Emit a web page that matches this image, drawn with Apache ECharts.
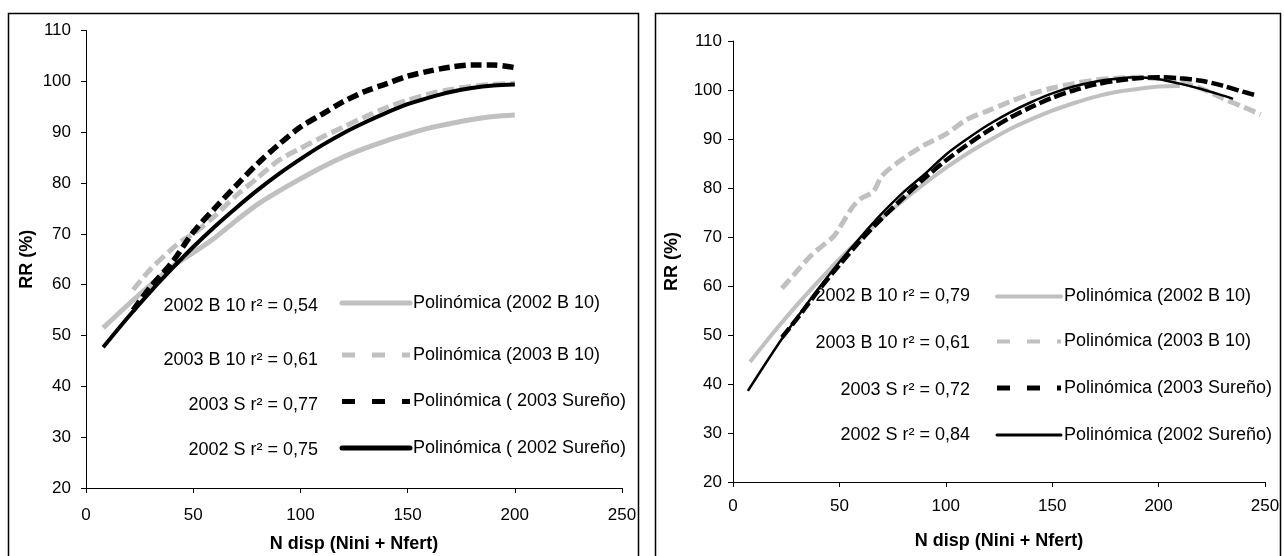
<!DOCTYPE html>
<html>
<head>
<meta charset="utf-8">
<script src="https://cdn.jsdelivr.net/npm/echarts@6.0.0/dist/echarts.min.js"></script>
<style>
  html, body { margin: 0; padding: 0; background: #fff; }
  #main { width: 1284px; height: 556px; }
</style>
</head>
<body>
<div id="main"></div>
<script>
// ---- data ----
// left panel
var left_b10_2002 = [[8,51.5],[20,56.2],[30,59.9],[40,63.5],[50,66.3],[60,69.2],[70,72.6],[80,75.8],[90,78.4],[100,80.8],[110,83.1],[120,85.1],[130,86.8],[140,88.3],[150,89.6],[160,90.8],[170,91.7],[180,92.5],[190,93.1],[200,93.4]];
var left_b10_2003 = [[22,59],[30,63],[40,67],[45,68.7],[50,70],[60,73.5],[70,77.5],[80,81],[90,84.5],[100,86.8],[110,89],[120,91],[130,93],[140,94.8],[150,96.3],[160,97.5],[170,98.4],[180,99],[190,99.4],[200,99.6]];
var left_s_2003 = [[22,55],[30,59.5],[40,64.3],[50,70.3],[60,75],[70,79.5],[80,83.8],[90,87.6],[100,91],[110,93.5],[120,96],[130,98],[140,99.5],[150,101],[160,102],[170,102.8],[180,103.2],[190,103.2],[200,102.7]];
var left_s_2002 = [[8,47.7],[20,53.8],[30,58.6],[40,63.1],[50,67.4],[60,71.4],[70,75.1],[80,78.6],[90,81.8],[100,84.7],[110,87.4],[120,89.8],[130,91.9],[140,93.8],[150,95.5],[160,96.8],[170,97.9],[180,98.7],[190,99.2],[200,99.4]];
// right panel
var right_b10_2002 = [[8,44.5],[20,51],[30,56.1],[40,60.9],[50,65.5],[60,69.7],[70,73.8],[80,77.5],[90,80.9],[100,84.1],[110,87],[120,89.6],[130,92],[140,94],[150,95.8],[160,97.3],[170,98.6],[180,99.6],[190,100.2],[200,100.7],[210,100.8]];
var right_b10_2003 = [[23,59.5],[30,63],[36,65.9],[40,67.5],[47,70],[50,71.8],[56,76],[60,77.8],[66,79.3],[70,82.5],[80,86],[90,88.8],[100,91],[110,94],[120,95.8],[130,97.6],[140,99.2],[150,100.4],[160,101.3],[170,102],[180,102.4],[190,102.6],[200,102.3],[210,101.6],[220,100.3],[230,98.3],[240,96.5],[248,95]];
var right_s_2003 = [[23,49.5],[30,53.3],[40,59],[50,64.3],[60,69.3],[70,73.8],[80,78],[90,82],[100,85.6],[110,88.8],[120,91.7],[130,94.3],[140,96.5],[150,98.4],[160,99.9],[170,101.1],[180,101.9],[190,102.4],[200,102.6],[210,102.4],[220,101.9],[230,100.9],[240,99.6],[246,98.9]];
var right_s_2002 = [[7,38.6],[20,47.3],[30,53.5],[40,59.4],[50,64.9],[60,70],[70,74.8],[80,79.1],[90,82.8],[100,86.8],[110,90],[120,92.9],[130,95.4],[140,97.5],[150,99.3],[160,100.7],[170,101.7],[180,102.3],[190,102.6],[200,102.2],[210,101.3],[220,100.2],[230,98.9],[235,98.2]];

var legend_names_left = ['Polinómica (2002 B 10)', 'Polinómica (2003 B 10)', 'Polinómica ( 2003 Sureño)', 'Polinómica ( 2002 Sureño)'];
var legend_names_right = ['Polinómica (2002 B 10)', 'Polinómica (2003 B 10)', 'Polinómica (2003 Sureño)', 'Polinómica (2002 Sureño)'];
var r2_left = ['2002 B 10 r² = 0,54', '2003 B 10 r² = 0,61', '2003 S r² = 0,77', '2002 S r² = 0,75'];
var r2_right = ['2002 B 10 r² = 0,79', '2003 B 10 r² = 0,61', '2003 S r² = 0,72', '2002 S r² = 0,84'];

var x_ticks = [0, 250, 50];   // min, max, step
var y_ticks = [20, 110, 10];

// ---- styles ----
var GRAY = '#c0c0c0';
var FONT = 'Liberation Sans, Arial, sans-serif';
var styles_left = [
  {color: GRAY, width: 5, type: 'solid'},
  {color: GRAY, width: 5, type: [12, 5]},
  {color: '#000', width: 5.5, type: [11, 5]},
  {color: '#000', width: 4, type: 'solid'}
];
var styles_right = [
  {color: GRAY, width: 4, type: 'solid'},
  {color: GRAY, width: 5, type: [12, 5]},
  {color: '#000', width: 4.5, type: [12, 4]},
  {color: '#000', width: 2.5, type: 'solid'}
];

function xAxisFor(idx, gap, margin) {
  return {
    gridIndex: idx, type: 'value', min: x_ticks[0], max: x_ticks[1], interval: x_ticks[2],
    name: 'N disp (Nini + Nfert)', nameLocation: 'middle', nameGap: gap,
    nameTextStyle: {fontFamily: FONT, fontWeight: 'bold', fontSize: 18, color: '#000'},
    axisLine: {show: true, onZero: false, lineStyle: {color: '#000', width: 1}},
    axisTick: {show: true, length: 5, lineStyle: {color: '#000'}},
    axisLabel: {fontFamily: FONT, fontSize: 17, color: '#000', margin: margin},
    splitLine: {show: false}
  };
}
function yAxisFor(idx, gap, margin) {
  return {
    gridIndex: idx, type: 'value', min: y_ticks[0], max: y_ticks[1], interval: y_ticks[2],
    name: 'RR (%)', nameLocation: 'middle', nameGap: gap, nameRotate: 90,
    nameTextStyle: {fontFamily: FONT, fontWeight: 'bold', fontSize: 18, color: '#000'},
    axisLine: {show: true, onZero: false, lineStyle: {color: '#000', width: 1}},
    axisTick: {show: true, length: 5, lineStyle: {color: '#000'}},
    axisLabel: {fontFamily: FONT, fontSize: 17, color: '#000', margin: margin},
    splitLine: {show: false}
  };
}

function lineSeries(name, data, idx, st, z) {
  return {
    name: name, type: 'line', xAxisIndex: idx, yAxisIndex: idx,
    data: data, showSymbol: false, smooth: 0.3, z: z,
    lineStyle: {color: st.color, width: st.width, type: st.type, cap: 'butt', join: 'round'},
    emphasis: {disabled: true}
  };
}

// legend block drawn beside each panel
function legendBlock(names, r2, st, r2Right, lineX0, lineX1, lineYs, textYs) {
  var out = [];
  for (var i = 0; i < names.length; i++) {
    var dash = st[i].type === 'solid' ? null : [13, 17];
    out.push({
      type: 'line', silent: true,
      shape: {x1: lineX0, y1: lineYs[i], x2: lineX1, y2: lineYs[i]},
      style: {stroke: st[i].color, lineWidth: st[i].width, lineDash: dash, lineCap: dash ? 'butt' : 'round'}
    });
    out.push({
      type: 'text', silent: true, x: lineX1 + 3, y: lineYs[i],
      style: {text: names[i], fontFamily: FONT, fontSize: 18, fill: '#000', align: 'left', verticalAlign: 'middle'}
    });
    out.push({
      type: 'text', silent: true, x: r2Right, y: textYs[i],
      style: {text: r2[i], fontFamily: FONT, fontSize: 18, fill: '#000', align: 'right', verticalAlign: 'middle'}
    });
  }
  return out;
}

var legend_left_styles = [
  {color: GRAY, width: 5, type: 'solid'},
  {color: GRAY, width: 5, type: 'dash'},
  {color: '#000', width: 5, type: 'dash'},
  {color: '#000', width: 5, type: 'solid'}
];
var legend_right_styles = [
  {color: GRAY, width: 4, type: 'solid'},
  {color: GRAY, width: 4, type: 'dash'},
  {color: '#000', width: 5, type: 'dash'},
  {color: '#000', width: 3, type: 'solid'}
];

var graphics = [
  {type: 'rect', silent: true, shape: {x: 8.5, y: 13.5, width: 630, height: 560}, style: {fill: null, stroke: '#000', lineWidth: 1.5}},
  {type: 'rect', silent: true, shape: {x: 655.5, y: 13.5, width: 625, height: 560}, style: {fill: null, stroke: '#000', lineWidth: 1.5}}
];
graphics = graphics.concat(
  legendBlock(legend_names_left, r2_left, legend_left_styles, 318, 342, 410, [303, 355, 401.5, 448], [306.5, 360, 405, 450]),
  legendBlock(legend_names_right, r2_right, legend_right_styles, 970, 997, 1061, [296.5, 341.5, 388, 435], [296.5, 343, 390, 435])
);

var option = {
  backgroundColor: '#fff',
  animation: false,
  grid: [
    {left: 86, top: 30.5, width: 536, height: 457.5, outerBoundsMode: 'none', containLabel: false},
    {left: 733, top: 41, width: 532, height: 441, outerBoundsMode: 'none', containLabel: false}
  ],
  xAxis: [xAxisFor(0, 47, 19), xAxisFor(1, 50, 16)],
  yAxis: [yAxisFor(0, 50, 15), yAxisFor(1, 52, 11)],
  series: [
    lineSeries('Polinómica (2002 B 10)', left_b10_2002, 0, styles_left[0], 2),
    lineSeries('Polinómica (2003 B 10)', left_b10_2003, 0, styles_left[1], 3),
    lineSeries('Polinómica ( 2002 Sureño)', left_s_2002, 0, styles_left[3], 4),
    lineSeries('Polinómica ( 2003 Sureño)', left_s_2003, 0, styles_left[2], 5),
    lineSeries('Polinómica (2002 B 10)', right_b10_2002, 1, styles_right[0], 2),
    lineSeries('Polinómica (2003 B 10)', right_b10_2003, 1, styles_right[1], 3),
    lineSeries('Polinómica (2003 Sureño)', right_s_2003, 1, styles_right[2], 4),
    lineSeries('Polinómica (2002 Sureño)', right_s_2002, 1, styles_right[3], 5)
  ],
  graphic: graphics
};

var myChart = echarts.init(document.getElementById('main'), null, {renderer: 'canvas'});
myChart.setOption(option, true);
</script>
</body>
</html>
